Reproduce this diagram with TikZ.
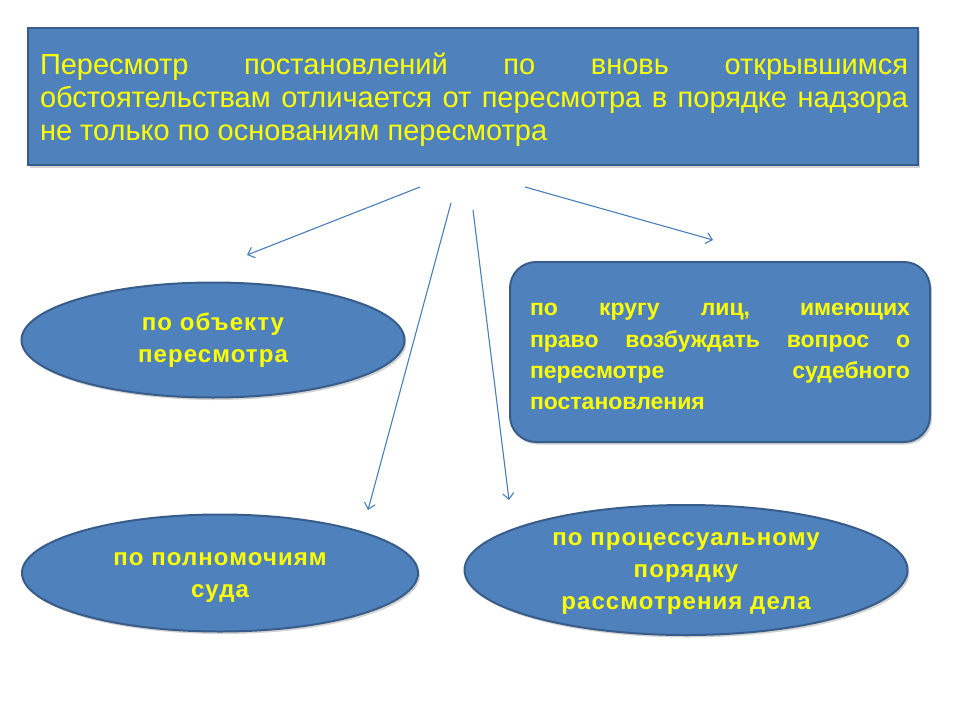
\documentclass[tikz,border=0pt]{standalone}
\usepackage{fontspec}
\setmainfont{Liberation Sans}
\newfontfamily\ovalfont[LetterSpace=4.5]{Liberation Sans}
\usetikzlibrary{shapes.geometric,arrows.meta,shadows}
\definecolor{boxfill}{HTML}{4F81BD}
\definecolor{boxline}{HTML}{385D8A}
\definecolor{arrowc}{HTML}{4A7EBB}
\definecolor{txt}{HTML}{FFFF00}
\tikzset{
  shapebase/.style={fill=boxfill, draw=boxline, line width=2pt, text=txt, inner sep=0pt,
    drop shadow={shadow xshift=2pt, shadow yshift=-2.5pt, opacity=0.35}},
  oval/.style={shapebase, ellipse, align=center, font=\ovalfont\fontsize{24}{32}\selectfont\bfseries},
  conn/.style={draw=arrowc, line width=1.1pt, -{Straight Barb[length=6pt,width=11pt]}}
}
\begin{document}
\begin{tikzpicture}[x=1pt,y=-1pt]
\useasboundingbox (0,0) rectangle (960,720);
\node[shapebase, rectangle, minimum width=890pt, minimum height=137pt] (top) at (473,96.5) {};
\node[text=txt, text width=868pt, align=justify, inner sep=0pt, font=\fontsize{29}{33}\selectfont] (toptext) at (474,99.5)
 {Пересмотр постановлений по вновь открывшимся\linebreak обстоятельствам отличается от пересмотра в порядке надзора\linebreak не только по основаниям пересмотра};

\node[oval, minimum width=383pt, minimum height=115pt] (obj) at (213,340) {по объекту\\пересмотра};
\node[shapebase, rectangle, rounded corners=26pt, minimum width=420pt, minimum height=180pt,
  text width=380pt, align=justify, font=\fontsize{23}{31.3}\selectfont\bfseries] (circle) at (720,352)
 {\rule{0pt}{22pt}по кругу лиц, имеющих\linebreak право возбуждать вопрос о\linebreak пересмотре судебного\linebreak постановления};
\node[oval, minimum width=396pt, minimum height=117pt] (pow) at (220,573) {\rule{0pt}{22pt}по полномочиям\\суда};
\node[oval, minimum width=443pt, minimum height=130pt] (proc) at (686,570) {\rule{0pt}{20.5pt}по процессуальному\\порядку\\рассмотрения дела};

\coordinate (s1) at (420,187); \coordinate (e1) at (247,255);
\coordinate (s2) at (451,203); \coordinate (e2) at (368,510);
\coordinate (s3) at (473,210); \coordinate (e3) at (509,500);
\coordinate (s4) at (525,187); \coordinate (e4) at (713,240);
\draw[conn] (s1) -- (e1);
\draw[conn] (s2) -- (e2);
\draw[conn] (s3) -- (e3);
\draw[conn] (s4) -- (e4);
\end{tikzpicture}
\end{document}
